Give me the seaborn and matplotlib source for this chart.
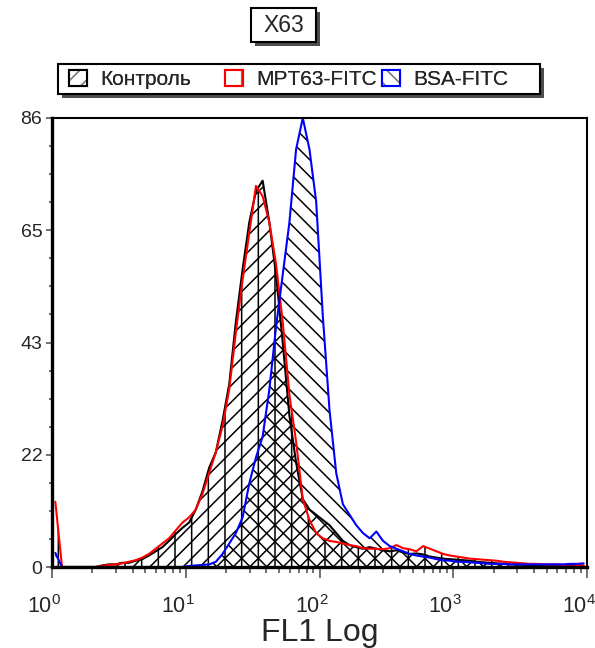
import matplotlib

matplotlib.use("Agg")
import matplotlib.pyplot as plt
import matplotlib.patheffects as pe
import matplotlib.transforms as mtransforms
import numpy as np
import pandas as pd
import seaborn as sns
from matplotlib.legend_handler import HandlerTuple
from matplotlib.patches import Patch, Rectangle

# histogram bins: 80 bins of 0.05 decade from 10^0 to 10^4 (x axis in log10 units)
BIN_WIDTH = 0.05
bin_centers = np.arange(80) * BIN_WIDTH + BIN_WIDTH / 2

control_counts = [
    0, 0, 0, 0, 0, 0, 0, 0.3, 0.5, 0.5,
    0.8, 0.8, 1.2, 1.5, 2.2, 3, 3.8, 5, 6.3, 7.5,
    8.5, 11, 14.5, 19, 22, 28, 35, 47, 57, 66,
    72, 74, 66, 56, 43, 29, 20, 13, 11, 10,
    9, 8, 6.5, 5, 4.2, 3.8, 3.5, 3.8, 3.5, 3.2,
    3, 3.2, 2.8, 2.5, 2.6, 2.4, 2, 1.8, 1.6, 1.5,
    1.4, 1.3, 1.2, 1, 0.9, 0.8, 0.7, 0.6, 0.5, 0.5,
    0.4, 0.4, 0.3, 0.3, 0.3, 0.3, 0.2, 0.2, 0.2, 0.2,
]
mpt63_counts = [
    12.5, 0, 0, 0, 0, 0, 0, 0.2, 0.4, 0.5,
    0.7, 1, 1.3, 1.8, 2.5, 3.5, 4.5, 5.5, 7, 8.5,
    9.5, 11, 14, 18, 22, 27, 34, 45, 55, 64,
    73, 71, 66, 58, 47, 33, 24, 13, 9, 6.5,
    5.5, 5, 4.8, 4.5, 4.2, 4, 3.6, 3.5, 3.5, 3.4,
    3.6, 4.2, 3.6, 3.4, 3, 4, 3.5, 3, 2.5, 2.2,
    2, 1.8, 1.6, 1.5, 1.4, 1.3, 1.2, 1, 0.9, 0.8,
    0.7, 0.6, 0.6, 0.5, 0.5, 0.5, 0.4, 0.5, 0.4, 0.3,
]
bsa_counts = [
    2.7, 0, 0, 0, 0, 0, 0, 0, 0, 0,
    0, 0, 0, 0, 0, 0, 0, 0, 0, 0,
    0.2, 0.3, 0.4, 0.5, 1, 2.5, 4.5, 6.5, 9.5, 16,
    21, 25, 34, 46, 56, 66, 80, 86, 80, 70,
    48, 30, 18, 12, 10, 8, 6.5, 5.5, 6.8, 5,
    4, 3.5, 3, 2.5, 2.2, 2, 1.8, 1.5, 1.3, 1.2,
    1, 1, 0.9, 0.8, 0.7, 0.6, 0.6, 0.6, 0.5, 0.5,
    0.5, 0.5, 0.5, 0.5, 0.5, 0.5, 0.5, 0.6, 0.6, 0.7,
]

series_labels = ["Контроль", "MPT63-FITC", "BSA-FITC"]
series_counts = [control_counts, mpt63_counts, bsa_counts]
series_colors = ["black", "#ff0000", "#0000ff"]
series_hatches = ["//", "|", "\\\\"]
legend_hatches = ["//", "|", "\\\\"]

y_ticks = [0, 21.5, 43, 64.5, 86]
y_tick_labels = ["0", "22", "43", "65", "86"]
x_decades = [0, 1, 2, 3, 4]

sns.set_style("white")
plt.rcParams["font.family"] = ["Liberation Sans", "DejaVu Sans"]
plt.rcParams["mathtext.fontset"] = "custom"
plt.rcParams["mathtext.rm"] = "Liberation Sans"
plt.rcParams["hatch.color"] = "black"
plt.rcParams["hatch.linewidth"] = 1.1

W, H = 595, 648
fig = plt.figure(figsize=(W / 100, H / 100), dpi=100)
ax = fig.add_axes([52 / W, 1 - 567 / H, 535 / W, 449 / H])

frames = [pd.DataFrame({"fl1": bin_centers, "count": c}) for c in series_counts]

# hatched fills first, then the coloured outlines on top
for df, hatch in zip(frames, series_hatches):
    sns.histplot(data=df, x="fl1", weights="count", binwidth=BIN_WIDTH, binrange=(0, 4),
                 element="poly", fill=True, hatch=hatch, color="black",
                 facecolor="none", edgecolor="black", linewidth=0, ax=ax)
for df, color in zip(frames, series_colors):
    sns.histplot(data=df, x="fl1", weights="count", binwidth=BIN_WIDTH, binrange=(0, 4),
                 element="poly", fill=False, color=color, linewidth=1.5, ax=ax)

ax.set_xlim(0, 4)
ax.set_ylim(0, 86)
ax.set_xlabel("FL1 Log", fontsize=23, labelpad=0)
ax.set_ylabel("")

ax.set_xticks(x_decades)
ax.set_xticklabels([rf"$\mathregular{{10^{{{d}}}}}$" for d in x_decades], fontsize=15.5)
minor_x = [d + np.log10(m) for d in x_decades[:-1] for m in range(2, 10)]
ax.set_xticks(minor_x, minor=True)
ax.set_yticks(y_ticks)
ax.set_yticklabels(y_tick_labels, fontsize=14)
ax.set_yticks(np.linspace(0, 86, 17), minor=True)

ax.tick_params(axis="x", which="both", bottom=True, direction="out", color="0.35", width=1.2)
ax.tick_params(axis="x", which="major", length=8, pad=12)
ax.tick_params(axis="x", which="minor", length=4)
ax.tick_params(axis="y", which="both", left=True, direction="out", color="0.35", width=1.2)
ax.tick_params(axis="y", which="major", length=4, pad=3)
ax.tick_params(axis="y", which="minor", length=2)

# decade labels sit a little left of their ticks, as in the original
shift = mtransforms.ScaledTranslation(-8 / 100, 0, fig.dpi_scale_trans)
for lbl in ax.xaxis.get_majorticklabels():
    lbl.set_transform(lbl.get_transform() + shift)

for side, spine in ax.spines.items():
    spine.set_visible(True)
    spine.set_color("black")
    spine.set_linewidth(2.4 if side in ("left", "bottom") else 1.5)

# title box and legend box, both with a drop shadow
shadow = [pe.SimplePatchShadow(offset=(3, -3), shadow_rgbFace="0.3", alpha=1), pe.Normal()]
for x0, y0, bw, bh in [(251, 42, 65, 34), (58, 94, 482, 30)]:
    box = Rectangle((x0 / W, 1 - y0 / H), bw / W, bh / H, transform=fig.transFigure,
                    facecolor="white", edgecolor="black", linewidth=1.5)
    box.set_path_effects(shadow)
    fig.add_artist(box)
fig.text(283.5 / W, 1 - 26 / H, "X63", ha="center", va="center", fontsize=16.5)

legend_x = [69, 225, 382]
for lx, label, color, hatch in zip(legend_x, series_labels, series_colors, legend_hatches):
    handle = (Patch(facecolor="white", edgecolor="0.45", hatch=hatch, linewidth=0),
              Patch(facecolor="none", edgecolor=color, linewidth=1.5))
    leg = fig.legend([handle], [label], handler_map={tuple: HandlerTuple(ndivide=1, pad=0)},
                     loc="center left", bbox_to_anchor=(lx / W, 1 - 79.5 / H),
                     frameon=False, fontsize=15, borderpad=0, borderaxespad=0,
                     handlelength=0.85, handleheight=0.85, handletextpad=0.65)
    fig.add_artist(leg)

fig.savefig("out.png", dpi=100)
